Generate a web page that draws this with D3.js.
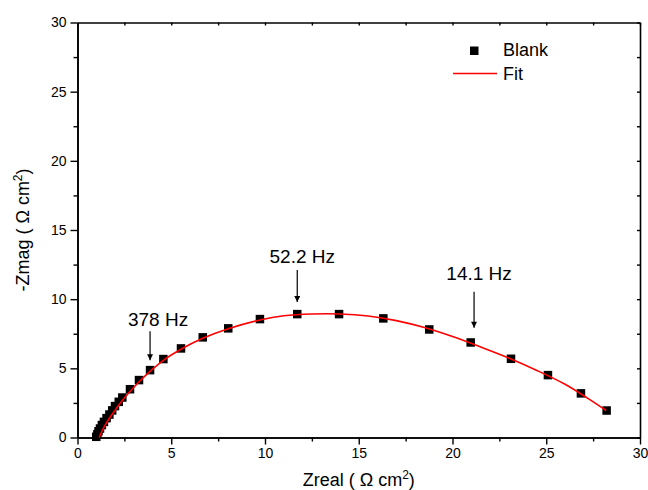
<!DOCTYPE html>
<html lang="en">
<head>
    <meta charset="UTF-8">
    <title>Nyquist plot</title>
    <script src="https://d3js.org/d3.v7.min.js"></script>
    <style>
        body { margin: 0; background: #fff; }
        svg text { font-family: "Liberation Sans", Arial, sans-serif; fill: #000; }
    </style>
</head>
<body>
    <div id="chart"></div>
    <script>
        // measured points (Blank)
        var zReal = [1.00, 1.06, 1.12, 1.20, 1.30, 1.41, 1.55, 1.70, 1.85, 2.00, 2.20, 2.39, 2.80, 3.28, 3.87,
            4.58, 5.52, 6.68, 8.04, 9.73, 11.72, 13.95, 16.31, 18.76, 20.97, 23.12, 25.09, 26.85, 28.22];
        var zImag = [0.05, 0.24, 0.45, 0.65, 0.90, 1.13, 1.40, 1.66, 1.96, 2.27, 2.58, 2.89, 3.49, 4.15, 4.87,
            5.67, 6.44, 7.24, 7.89, 8.56, 8.92, 8.92, 8.61, 7.81, 6.87, 5.69, 4.51, 3.19, 1.95];

        // fitted curve
        var fitReal = [1.16, 1.3, 1.5, 1.75, 2.05, 2.4, 2.85, 3.3, 3.87, 4.58, 5.52, 6.68, 8.04, 9.73, 11.0,
            12.5, 14.0, 15.5, 17.0, 18.5, 20.0, 21.5, 23.0, 24.5, 26.0, 27.2, 28.2];
        var fitImag = [0, 0.45, 0.95, 1.5, 2.05, 2.7, 3.4, 4.05, 4.78, 5.58, 6.38, 7.17, 7.86, 8.5, 8.8,
            8.93, 8.93, 8.78, 8.45, 7.95, 7.3, 6.55, 5.75, 4.85, 3.85, 2.85, 1.95];

        var xTicks = [0, 5, 10, 15, 20, 25, 30];
        var yTicks = [0, 5, 10, 15, 20, 25, 30];
        var minorTicks = [2.5, 7.5, 12.5, 17.5, 22.5, 27.5];

        var freqLabels = ["378 Hz", "52.2 Hz", "14.1 Hz"];
        var freqAtReal = [3.87, 11.72, 21.15];
        var freqAtImag = [4.87, 8.92, 6.85];

        var width = 648, height = 490;
        var mLeft = 77.5, mRight = 640, mTop = 22.5, mBottom = 437.5;

        var svg = d3.select("#chart")
            .append("svg")
            .attr("width", width)
            .attr("height", height);

        var x = d3.scaleLinear().domain([0, 30]).range([mLeft, mRight]);
        var y = d3.scaleLinear().domain([0, 30]).range([mBottom, mTop]);

        function styleAxis(g) {
            g.select(".domain").attr("stroke", "#000").attr("stroke-width", 1.6);
            g.selectAll(".tick line").attr("stroke", "#000").attr("stroke-width", 1.4);
            g.selectAll(".tick text").style("font-size", "14px").attr("fill", "#000");
        }

        // bottom & left, ticks outward
        svg.append("g")
            .attr("transform", "translate(0," + mBottom + ")")
            .call(d3.axisBottom(x).tickValues(minorTicks).tickSize(4).tickFormat("").tickSizeOuter(0))
            .call(styleAxis);
        svg.append("g")
            .attr("transform", "translate(0," + mBottom + ")")
            .call(d3.axisBottom(x).tickValues(xTicks).tickSize(7).tickPadding(4).tickSizeOuter(0))
            .call(styleAxis);
        svg.append("g")
            .attr("transform", "translate(" + mLeft + ",0)")
            .call(d3.axisLeft(y).tickValues(minorTicks).tickSize(4).tickFormat("").tickSizeOuter(0))
            .call(styleAxis);
        svg.append("g")
            .attr("transform", "translate(" + mLeft + ",0)")
            .call(d3.axisLeft(y).tickValues(yTicks).tickSize(7).tickPadding(4).tickSizeOuter(0))
            .call(styleAxis);

        // top & right, short inward ticks, no labels
        svg.append("g")
            .attr("transform", "translate(0," + mTop + ")")
            .call(d3.axisBottom(x).tickValues(xTicks.concat(minorTicks)).tickSize(3).tickFormat("").tickSizeOuter(0))
            .call(styleAxis);
        svg.append("g")
            .attr("transform", "translate(" + mRight + ",0)")
            .call(d3.axisLeft(y).tickValues(yTicks.concat(minorTicks)).tickSize(3).tickFormat("").tickSizeOuter(0))
            .call(styleAxis);

        // axis titles
        var xt = svg.append("text")
            .attr("x", (mLeft + mRight) / 2)
            .attr("y", 486)
            .attr("text-anchor", "middle")
            .style("font-size", "18px");
        xt.append("tspan").text("Zreal ( \u03A9 cm");
        xt.append("tspan").attr("dy", -7).style("font-size", "12px").text("2");
        xt.append("tspan").attr("dy", 7).text(")");

        var yt = svg.append("text")
            .attr("transform", "translate(29," + ((mTop + mBottom) / 2) + ") rotate(-90)")
            .attr("text-anchor", "middle")
            .style("font-size", "18px");
        yt.append("tspan").text("-Zmag ( \u03A9 cm");
        yt.append("tspan").attr("dy", -7).style("font-size", "12px").text("2");
        yt.append("tspan").attr("dy", 7).text(")");

        var pts = zReal.map(function (d, i) { return { re: d, im: zImag[i] }; });
        var fit = fitReal.map(function (d, i) { return { re: d, im: fitImag[i] }; });

        svg.selectAll("rect.pt")
            .data(pts)
            .enter().append("rect")
            .attr("class", "pt")
            .attr("x", function (d) { return x(d.re) - 4.25; })
            .attr("y", function (d) { return y(d.im) - 4.25; })
            .attr("width", 8.5)
            .attr("height", 8.5)
            .attr("fill", "#000");

        var line = d3.line()
            .curve(d3.curveCatmullRom)
            .x(function (d) { return x(d.re); })
            .y(function (d) { return y(d.im); });

        svg.append("path")
            .datum(fit)
            .attr("fill", "none")
            .attr("stroke", "red")
            .attr("stroke-width", 1.6)
            .attr("d", line);

        // frequency annotations
        svg.append("defs").append("marker")
            .attr("id", "head")
            .attr("viewBox", "0 0 10 10")
            .attr("refX", 10).attr("refY", 5)
            .attr("markerWidth", 10).attr("markerHeight", 6)
            .attr("markerUnits", "userSpaceOnUse")
            .attr("orient", "auto")
            .append("path")
            .attr("d", "M0,0 L10,5 L0,10 Z")
            .attr("fill", "#000");

        var tipGap = [10, 12, 15];
        var tailGap = [39, 44, 51];
        var textGap = [44, 51, 63];
        var textShift = [8, 5, 5];

        freqLabels.forEach(function (lab, i) {
            var px = x(freqAtReal[i]), py = y(freqAtImag[i]);
            svg.append("line")
                .attr("x1", px).attr("x2", px)
                .attr("y1", py - tailGap[i]).attr("y2", py - tipGap[i])
                .attr("stroke", "#000")
                .attr("stroke-width", 1.2)
                .attr("marker-end", "url(#head)");
            svg.append("text")
                .attr("x", px + textShift[i])
                .attr("y", py - textGap[i])
                .attr("text-anchor", "middle")
                .style("font-size", "19px")
                .text(lab);
        });

        // legend
        var lg = svg.append("g");
        lg.append("rect")
            .attr("x", 470).attr("y", 46.5)
            .attr("width", 8.5).attr("height", 8.5)
            .attr("fill", "#000");
        lg.append("text")
            .attr("x", 503).attr("y", 56)
            .style("font-size", "18px")
            .text("Blank");
        lg.append("line")
            .attr("x1", 453).attr("x2", 497)
            .attr("y1", 73.5).attr("y2", 73.5)
            .attr("stroke", "red")
            .attr("stroke-width", 1.6);
        lg.append("text")
            .attr("x", 503).attr("y", 80)
            .style("font-size", "18px")
            .text("Fit");
    </script>
</body>
</html>
